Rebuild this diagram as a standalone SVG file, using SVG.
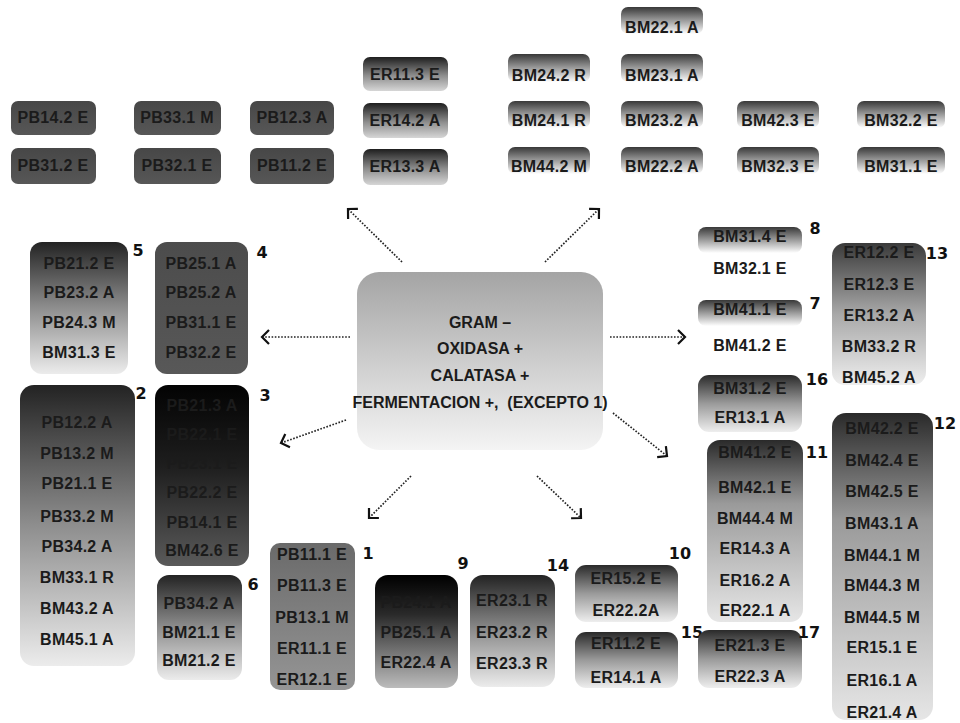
<svg xmlns="http://www.w3.org/2000/svg" width="960" height="723" viewBox="0 0 960 723">
<defs>
<style>
.l{font-family:"Liberation Sans",Arial,sans-serif;font-size:16px;font-weight:bold;fill:#1b1b1b;text-anchor:middle;letter-spacing:0.3px}
.c{font-family:"Liberation Sans",Arial,sans-serif;font-size:16px;font-weight:bold;fill:#1b1b1b;text-anchor:middle;white-space:pre}
.n{font-family:"DejaVu Sans",sans-serif;font-size:16px;font-weight:bold;fill:#111;text-anchor:middle}
.a{fill:none;stroke:#222;stroke-width:1.7;stroke-dasharray:1.6 1.6;marker-end:url(#arr)}
</style>
<linearGradient id="gPB" x1="0" y1="0" x2="0" y2="1"><stop offset="0" stop-color="#474747"/><stop offset="1" stop-color="#575757"/></linearGradient>
<linearGradient id="gER" x1="0" y1="0" x2="0" y2="1"><stop offset="0" stop-color="#1e1e1e"/><stop offset="0.55" stop-color="#8e8e8e"/><stop offset="1" stop-color="#d6d6d6"/></linearGradient>
<linearGradient id="gTab" x1="0" y1="0" x2="0" y2="1"><stop offset="0" stop-color="#383838"/><stop offset="0.5" stop-color="#9c9c9c"/><stop offset="1" stop-color="#ffffff"/></linearGradient>
<linearGradient id="gC" x1="0" y1="0" x2="0" y2="1"><stop offset="0" stop-color="#a4a4a4"/><stop offset="0.5" stop-color="#cdcdcd"/><stop offset="1" stop-color="#f4f4f4"/></linearGradient>
<linearGradient id="gDL" x1="0" y1="0" x2="0" y2="1"><stop offset="0" stop-color="#232323"/><stop offset="0.5" stop-color="#8e8e8e"/><stop offset="1" stop-color="#ececec"/></linearGradient>
<linearGradient id="g11" x1="0" y1="0" x2="0" y2="1"><stop offset="0" stop-color="#2a2a2a"/><stop offset="0.35" stop-color="#9a9a9a"/><stop offset="1" stop-color="#e6e6e6"/></linearGradient>
<linearGradient id="g13" x1="0" y1="0" x2="0" y2="1"><stop offset="0" stop-color="#3a3a3a"/><stop offset="0.5" stop-color="#a8a8a8"/><stop offset="1" stop-color="#eeeeee"/></linearGradient>
<linearGradient id="g4" x1="0" y1="0" x2="0" y2="1"><stop offset="0" stop-color="#4c4c4c"/><stop offset="1" stop-color="#585858"/></linearGradient>
<linearGradient id="g3" x1="0" y1="0" x2="0" y2="1"><stop offset="0" stop-color="#030303"/><stop offset="0.45" stop-color="#1e1e1e"/><stop offset="1" stop-color="#5a5a5a"/></linearGradient>
<linearGradient id="g1" x1="0" y1="0" x2="0" y2="1"><stop offset="0" stop-color="#6a6a6a"/><stop offset="1" stop-color="#959595"/></linearGradient>
<linearGradient id="g9" x1="0" y1="0" x2="0" y2="1"><stop offset="0" stop-color="#000000"/><stop offset="0.35" stop-color="#2a2a2a"/><stop offset="1" stop-color="#bcbcbc"/></linearGradient>
<linearGradient id="gS" x1="0" y1="0" x2="0" y2="1"><stop offset="0" stop-color="#2a2a2a"/><stop offset="0.5" stop-color="#9a9a9a"/><stop offset="1" stop-color="#eeeeee"/></linearGradient>
<marker id="arr" viewBox="-10 -10 12 20" refX="0" refY="0" markerWidth="12" markerHeight="20" markerUnits="userSpaceOnUse" orient="auto"><path d="M-7,-7 L0,0 L-7,7" fill="none" stroke="#111" stroke-width="2.2"/></marker>
</defs>
<rect width="960" height="723" fill="#ffffff"/>

<g id="connectors">
<path class="a" d="M402,262 L348,209"/>
<path class="a" d="M545,262 L599,209"/>
<path class="a" d="M350,337 L262,337"/>
<path class="a" d="M610,337 L685,337"/>
<path class="a" d="M613,413 L667,456"/>
<path class="a" d="M346,420 L281,443"/>
<path class="a" d="M411,476 L369,518"/>
<path class="a" d="M537,476 L581,518"/>
</g>

<g id="top-pb">
<g id="pb14-2"><rect x="11" y="101" width="85" height="34" rx="7" fill="url(#gPB)"/><text class="l" x="53" y="123">PB14.2 E</text></g>
<g id="pb33-1"><rect x="134" y="101" width="87" height="34" rx="7" fill="url(#gPB)"/><text class="l" x="177" y="123">PB33.1 M</text></g>
<g id="pb12-3"><rect x="250" y="101" width="84" height="34" rx="7" fill="url(#gPB)"/><text class="l" x="292" y="123">PB12.3 A</text></g>
<g id="pb31-2"><rect x="11" y="148" width="85" height="36" rx="7" fill="url(#gPB)"/><text class="l" x="53" y="171">PB31.2 E</text></g>
<g id="pb32-1"><rect x="134" y="148" width="87" height="36" rx="7" fill="url(#gPB)"/><text class="l" x="177" y="171">PB32.1 E</text></g>
<g id="pb11-2"><rect x="250" y="148" width="84" height="36" rx="7" fill="url(#gPB)"/><text class="l" x="292" y="171">PB11.2 E</text></g>
</g>

<g id="top-er">
<g id="er11-3"><rect x="363" y="57" width="85" height="34" rx="7" fill="url(#gER)"/><text class="l" x="405" y="80">ER11.3 E</text></g>
<g id="er14-2"><rect x="363" y="103" width="85" height="35" rx="7" fill="url(#gER)"/><text class="l" x="405" y="126">ER14.2 A</text></g>
<g id="er13-3"><rect x="363" y="149" width="85" height="36" rx="7" fill="url(#gER)"/><text class="l" x="405" y="172">ER13.3 A</text></g>
</g>

<g id="top-bm">
<g id="bm22-1"><rect x="621" y="7" width="82" height="27" rx="7" fill="url(#gTab)"/><text class="l" x="662" y="33">BM22.1 A</text></g>
<g id="bm24-2"><rect x="508" y="54" width="82" height="28" rx="7" fill="url(#gTab)"/><text class="l" x="549" y="81">BM24.2 R</text></g>
<g id="bm23-1"><rect x="621" y="54" width="82" height="28" rx="7" fill="url(#gTab)"/><text class="l" x="662" y="81">BM23.1 A</text></g>
<g id="bm24-1"><rect x="508" y="101" width="82" height="27" rx="7" fill="url(#gTab)"/><text class="l" x="549" y="126">BM24.1 R</text></g>
<g id="bm23-2"><rect x="621" y="101" width="82" height="27" rx="7" fill="url(#gTab)"/><text class="l" x="662" y="126">BM23.2 A</text></g>
<g id="bm42-3"><rect x="737" y="101" width="82" height="27" rx="7" fill="url(#gTab)"/><text class="l" x="778" y="126">BM42.3 E</text></g>
<g id="bm32-2"><rect x="857" y="101" width="88" height="27" rx="7" fill="url(#gTab)"/><text class="l" x="901" y="126">BM32.2 E</text></g>
<g id="bm44-2"><rect x="508" y="147" width="82" height="27" rx="7" fill="url(#gTab)"/><text class="l" x="549" y="172">BM44.2 M</text></g>
<g id="bm22-2"><rect x="621" y="147" width="82" height="27" rx="7" fill="url(#gTab)"/><text class="l" x="662" y="172">BM22.2 A</text></g>
<g id="bm32-3"><rect x="737" y="147" width="82" height="27" rx="7" fill="url(#gTab)"/><text class="l" x="778" y="172">BM32.3 E</text></g>
<g id="bm31-1"><rect x="857" y="147" width="88" height="27" rx="7" fill="url(#gTab)"/><text class="l" x="901" y="172">BM31.1 E</text></g>
</g>

<g id="center">
<rect x="357" y="272" width="246" height="178" rx="22" fill="url(#gC)"/>
<text class="c" x="480" y="328">GRAM –</text>
<text class="c" x="480" y="354">OXIDASA +</text>
<text class="c" x="480" y="381">CALATASA +</text>
<text class="c" x="480" y="408">FERMENTACION +,  (EXCEPTO 1)</text>
</g>

<g id="group5"><rect x="30" y="242" width="98" height="132" rx="12" fill="url(#gDL)"/>
<text class="l" x="79" y="269">PB21.2 E</text><text class="l" x="79" y="298">PB23.2 A</text><text class="l" x="79" y="328">PB24.3 M</text><text class="l" x="79" y="358">BM31.3 E</text>
<text class="n" x="138" y="256">5</text></g>

<g id="group4"><rect x="155" y="242" width="93" height="132" rx="12" fill="url(#g4)"/>
<text class="l" x="201" y="269">PB25.1 A</text><text class="l" x="201" y="298">PB25.2 A</text><text class="l" x="201" y="328">PB31.1 E</text><text class="l" x="201" y="358">PB32.2 E</text>
<text class="n" x="262" y="258">4</text></g>

<g id="group2"><rect x="20" y="385" width="115" height="281" rx="14" fill="url(#gDL)"/>
<text class="l" x="77" y="428">PB12.2 A</text><text class="l" x="77" y="459">PB13.2 M</text><text class="l" x="77" y="489">PB21.1 E</text><text class="l" x="77" y="522">PB33.2 M</text><text class="l" x="77" y="552">PB34.2 A</text><text class="l" x="77" y="583">BM33.1 R</text><text class="l" x="77" y="614">BM43.2 A</text><text class="l" x="77" y="645">BM45.1 A</text>
<text class="n" x="141" y="399">2</text></g>

<g id="group3"><rect x="155" y="385" width="94" height="181" rx="13" fill="url(#g3)"/>
<text class="l" x="202" y="411">PB21.3 A</text><text class="l" x="202" y="440">PB22.1 E</text><text class="l" x="202" y="469">PB23.1 E</text><text class="l" x="202" y="498">PB22.2 E</text><text class="l" x="202" y="528">PB14.1 E</text><text class="l" x="202" y="556">BM42.6 E</text>
<text class="n" x="265" y="401">3</text></g>

<g id="group6"><rect x="157" y="575" width="85" height="105" rx="12" fill="url(#gDL)"/>
<text class="l" x="199" y="609">PB34.2 A</text><text class="l" x="199" y="638">BM21.1 E</text><text class="l" x="199" y="666">BM21.2 E</text>
<text class="n" x="253" y="590">6</text></g>

<g id="group1"><rect x="270" y="543" width="85" height="147" rx="10" fill="url(#g1)"/>
<text class="l" x="312" y="560">PB11.1 E</text><text class="l" x="312" y="591">PB11.3 E</text><text class="l" x="312" y="623">PB13.1 M</text><text class="l" x="312" y="654">ER11.1 E</text><text class="l" x="312" y="685">ER12.1 E</text>
<text class="n" x="368" y="559">1</text></g>

<g id="group9"><rect x="375" y="575" width="83" height="113" rx="13" fill="url(#g9)"/>
<text class="l" x="416" y="608">PB24.1 A</text><text class="l" x="416" y="638">PB25.1 A</text><text class="l" x="416" y="668">ER22.4 A</text>
<text class="n" x="463" y="569">9</text></g>

<g id="group14"><rect x="470" y="575" width="85" height="112" rx="13" fill="url(#gDL)"/>
<text class="l" x="512" y="606">ER23.1 R</text><text class="l" x="512" y="638">ER23.2 R</text><text class="l" x="512" y="669">ER23.3 R</text>
<text class="n" x="558" y="571">14</text></g>

<g id="group10"><rect x="575" y="565" width="103" height="57" rx="11" fill="url(#gS)"/>
<text class="l" x="626" y="584">ER15.2 E</text><text class="l" x="626" y="616">ER22.2A</text>
<text class="n" x="680" y="559">10</text></g>

<g id="group15"><rect x="575" y="632" width="103" height="56" rx="11" fill="url(#gS)"/>
<text class="l" x="626" y="649">ER11.2 E</text><text class="l" x="626" y="683">ER14.1 A</text>
<text class="n" x="692" y="638">15</text></g>

<g id="group11"><rect x="707" y="440" width="96" height="182" rx="13" fill="url(#g11)"/>
<text class="l" x="755" y="458">BM41.2 E</text><text class="l" x="755" y="493">BM42.1 E</text><text class="l" x="755" y="524">BM44.4 M</text><text class="l" x="755" y="554">ER14.3 A</text><text class="l" x="755" y="586">ER16.2 A</text><text class="l" x="755" y="616">ER22.1 A</text>
<text class="n" x="817" y="458">11</text></g>

<g id="group17"><rect x="698" y="630" width="104" height="58" rx="11" fill="url(#gS)"/>
<text class="l" x="750" y="651">ER21.3 E</text><text class="l" x="750" y="682">ER22.3 A</text>
<text class="n" x="809" y="638">17</text></g>

<g id="group12"><rect x="832" y="413" width="101" height="307" rx="14" fill="url(#g11)"/>
<text class="l" x="882" y="434">BM42.2 E</text><text class="l" x="882" y="466">BM42.4 E</text><text class="l" x="882" y="497">BM42.5 E</text><text class="l" x="882" y="529">BM43.1 A</text><text class="l" x="882" y="561">BM44.1 M</text><text class="l" x="882" y="591">BM44.3 M</text><text class="l" x="882" y="623">BM44.5 M</text><text class="l" x="882" y="653">ER15.1 E</text><text class="l" x="882" y="686">ER16.1 A</text><text class="l" x="882" y="718">ER21.4 A</text>
<text class="n" x="945" y="429">12</text></g>

<g id="group16"><rect x="698" y="375" width="104" height="57" rx="11" fill="url(#gS)"/>
<text class="l" x="750" y="394">BM31.2 E</text><text class="l" x="750" y="423">ER13.1 A</text>
<text class="n" x="817" y="385">16</text></g>

<g id="group7"><rect x="698" y="300" width="104" height="26" rx="8" fill="url(#gTab)"/>
<text class="l" x="750" y="315">BM41.1 E</text><text class="l" x="750" y="351">BM41.2 E</text>
<text class="n" x="815" y="309">7</text></g>

<g id="group8"><rect x="698" y="227" width="104" height="26" rx="8" fill="url(#gTab)"/>
<text class="l" x="750" y="242">BM31.4 E</text><text class="l" x="750" y="274">BM32.1 E</text>
<text class="n" x="815" y="234">8</text></g>

<g id="group13"><rect x="832" y="243" width="94" height="142" rx="13" fill="url(#g13)"/>
<text class="l" x="879" y="258">ER12.2 E</text><text class="l" x="879" y="290">ER12.3 E</text><text class="l" x="879" y="321">ER13.2 A</text><text class="l" x="879" y="352">BM33.2 R</text><text class="l" x="879" y="383">BM45.2 A</text>
<text class="n" x="937" y="259">13</text></g>
</svg>
